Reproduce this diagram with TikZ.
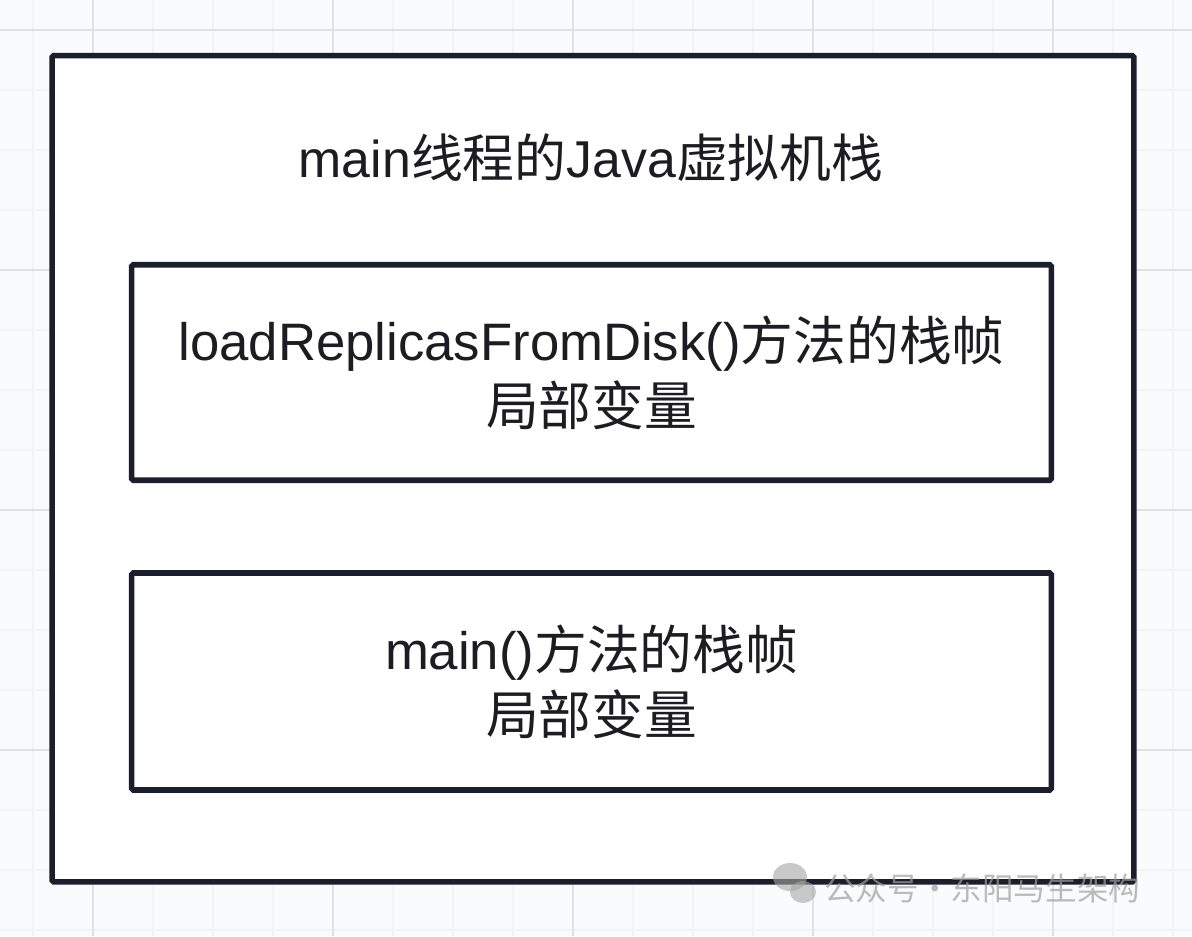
\documentclass[tikz,border=0pt]{standalone}
\usepackage{fontspec}
\setmainfont{Liberation Sans}
\newfontfamily\cjk{Noto Sans CJK SC}
\usetikzlibrary{positioning}
\definecolor{inkline}{HTML}{1B1E2C}
\definecolor{inktext}{HTML}{1C1C22}
\definecolor{paper}{HTML}{FAFBFC}
\definecolor{minorgrid}{HTML}{F2F3F5}
\definecolor{majorgrid}{HTML}{E0E1E4}

\begin{document}
\begin{tikzpicture}[x=0.02cm, y=-0.02cm, text=inktext,
	   font=\fontsize{29.5}{37.5}\selectfont,
	   framebox/.style={draw=inkline, line width=3.2pt, fill=white, rounded corners=1pt, align=center, inner sep=0pt},
	   gridminor/.style={draw=minorgrid, line width=0.6pt},
	   gridmajor/.style={draw=majorgrid, line width=0.8pt}]
	  % canvas and grid
	  \fill[paper] (0,0) rectangle (1192,936);
	  \useasboundingbox (0,0) rectangle (1192,936);
	  \foreach \gx in {33,93,...,1173} \draw[gridminor] (\gx,0) -- (\gx,936);
	  \foreach \gy in {30,90,...,930} \draw[gridminor] (0,\gy) -- (1192,\gy);
	  \foreach \gx in {93,333,...,1053} \draw[gridmajor] (\gx,0) -- (\gx,936);
	  \foreach \gy in {30,270,...,750} \draw[gridmajor] (0,\gy) -- (1192,\gy);
	  % the stack and its frames
	  \node[framebox, minimum width=21.64cm, minimum height=16.53cm] (jvmstack) at (593,468.75) {};
	  \node (stacktitle) at (591,158) {main{\cjk 线程的}Java{\cjk 虚拟机栈}};
	  \node[framebox, minimum width=18.4cm, minimum height=4.31cm, font=\fontsize{30}{37}\selectfont] (loadframe) at (591.5,372.5) {loadReplicasFromDisk(){\cjk 方法的栈帧}\\{\cjk 局部变量}};
	  \node[framebox, minimum width=18.4cm, minimum height=4.34cm, font=\fontsize{30}{37}\selectfont] (mainframe) at (591.5,681.5) {main(){\cjk 方法的栈帧}\\{\cjk 局部变量}};
	  % watermark
	  \fill[gray!70, opacity=.6] (790,877) ellipse [x radius=0.34cm, y radius=0.28cm];
	  \fill[gray!70, opacity=.6] (803,892) ellipse [x radius=0.26cm, y radius=0.22cm];
	  \node[text=gray!75, opacity=.7, font=\cjk\fontsize{18}{22}\selectfont, anchor=west] (wmark) at (818,888) {公众号·东阳马生架构};
	\end{tikzpicture}
\end{document}
